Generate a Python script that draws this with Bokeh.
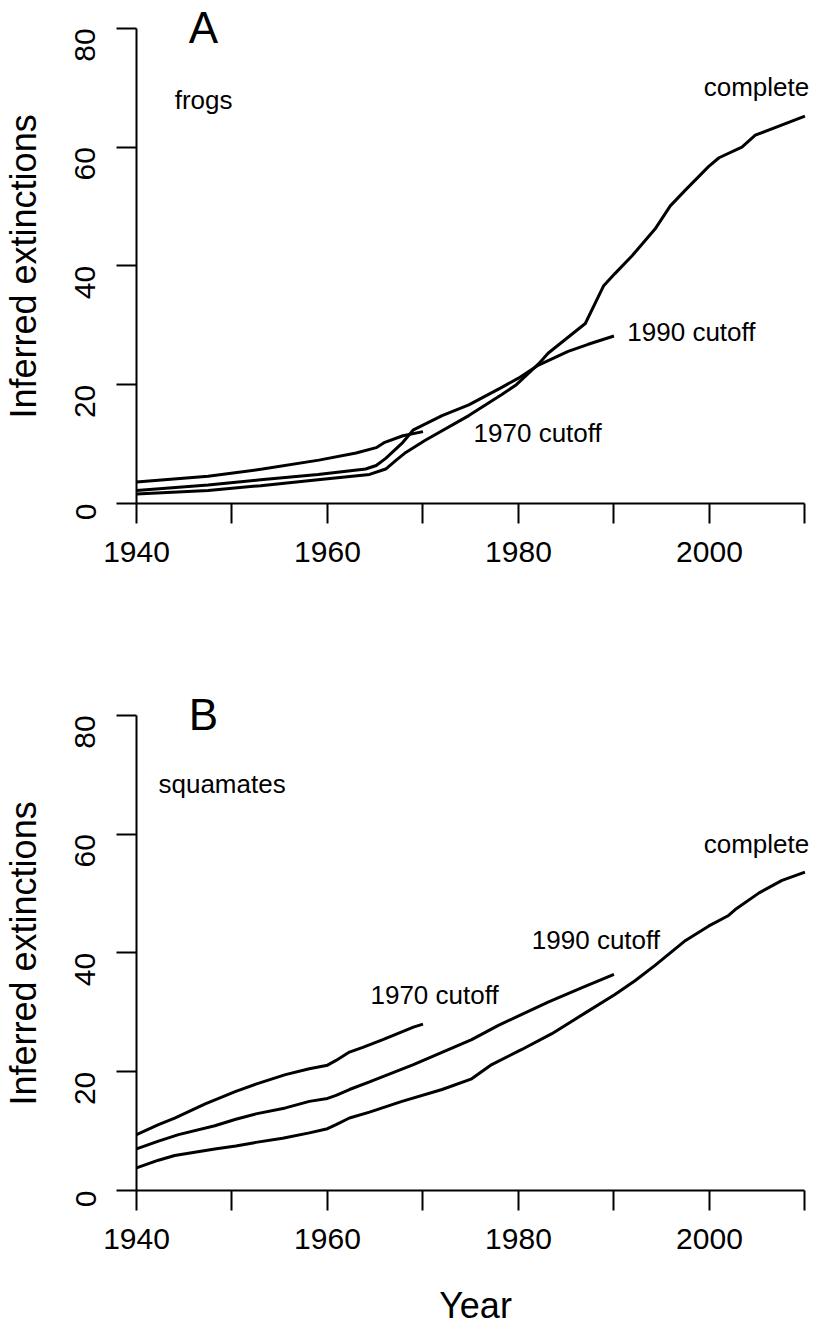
import math
from bokeh.plotting import figure
from bokeh.layouts import column
from bokeh.models import FixedTicker, Label, Title
from bokeh.embed import file_html
from bokeh.resources import INLINE

FONT = "Liberation Sans"

# ---- data: panel A (frogs) ----
frog_complete_years = [1940, 1947.5, 1953, 1959, 1964.4, 1966.1, 1967.2, 1968.2, 1970.2, 1974.8,
                       1978.3, 1979.7, 1982.1, 1983.1, 1984.9, 1987, 1988.9, 1990.1, 1991.9,
                       1994.3, 1995.9, 1997.5, 1999.9, 2001, 2003.4, 2004.8, 2010]
frog_complete_vals = [1.6, 2.2, 3.0, 4.0, 4.9, 5.8, 7.3, 8.6, 10.6, 14.8,
                      18.4, 19.9, 23.5, 25.3, 27.6, 30.3, 36.6, 38.7, 41.7,
                      46.2, 50.1, 52.8, 56.7, 58.2, 60.0, 62.0, 65.2]
frog_1990_years = [1940, 1947.5, 1953, 1959, 1964, 1965.1, 1966.1, 1967.9, 1969, 1970, 1972,
                   1974.8, 1978.3, 1980, 1982.1, 1985.2, 1987.3, 1990]
frog_1990_vals = [2.2, 3.1, 4.0, 4.9, 5.8, 6.4, 7.6, 10.3, 12.4, 13.2, 14.8,
                  16.6, 19.6, 21.1, 23.3, 25.6, 26.8, 28.2]
frog_1970_years = [1940, 1947.5, 1953.2, 1959.1, 1963, 1965.1, 1966, 1967.9, 1970]
frog_1970_vals = [3.6, 4.6, 5.8, 7.3, 8.5, 9.4, 10.3, 11.4, 12.1]

# ---- data: panel B (squamates) ----
sq_complete_years = [1940, 1942.3, 1944, 1948.2, 1950.4, 1952.5, 1955.3, 1958.1, 1960, 1960.9,
                     1962.3, 1964.4, 1967.8, 1972, 1975.1, 1977.2, 1980.3, 1983.5, 1987,
                     1990.1, 1992.2, 1994.3, 1997.5, 1999.9, 2002, 2002.7, 2005.2, 2007.6, 2010]
sq_complete_vals = [3.8, 5.1, 5.9, 7.0, 7.5, 8.1, 8.8, 9.7, 10.4, 11.1,
                    12.2, 13.2, 15.0, 17.0, 18.8, 21.2, 23.7, 26.4, 29.9,
                    33.0, 35.3, 37.9, 42.1, 44.5, 46.3, 47.3, 50.1, 52.2, 53.6]
sq_1990_years = [1940, 1942.3, 1944.4, 1948.2, 1950.4, 1952.5, 1955.6, 1958.1, 1960, 1960.9,
                 1962.3, 1964.4, 1969, 1975.1, 1977.9, 1980.3, 1983.1, 1986.6, 1990]
sq_1990_vals = [7.0, 8.3, 9.4, 10.9, 12.0, 12.9, 13.9, 15.0, 15.5, 16.0,
                17.0, 18.3, 21.2, 25.4, 27.8, 29.6, 31.7, 34.1, 36.4]
sq_1970_years = [1940, 1942.3, 1944, 1947.2, 1950.4, 1952.5, 1955.6, 1958.1, 1960, 1960.9,
                 1962.3, 1963.7, 1965.8, 1969, 1970]
sq_1970_vals = [9.4, 11.1, 12.2, 14.6, 16.7, 17.9, 19.5, 20.5, 21.1, 21.9,
                23.3, 24.1, 25.4, 27.5, 28.0]

x_ticks = [1940, 1950, 1960, 1970, 1980, 1990, 2000, 2010]
x_tick_labels = ["1940", "", "1960", "", "1980", "", "2000", ""]
y_ticks = [0, 20, 40, 60, 80]
y_tick_labels = ["0", "20", "40", "60", "80"]


def make_panel(height, border_top, xlabel):
    p = figure(width=813, height=height, frame_width=678, frame_height=499,
               min_border_left=135, min_border_right=0,
               min_border_top=border_top, min_border_bottom=height - border_top - 499,
               x_range=(1940, 2011), y_range=(0, 84),
               output_backend="svg", toolbar_location=None,
               background_fill_color="white", border_fill_color="white")
    p.outline_line_color = None
    p.grid.visible = False
    for ax in (p.xaxis[0], p.yaxis[0]):
        ax.axis_line_width = 2
        ax.axis_line_color = "black"
        ax.major_tick_line_width = 2
        ax.major_tick_line_color = "black"
        ax.major_tick_out = 20
        ax.major_tick_in = 0
        ax.minor_tick_line_color = None
        ax.major_label_text_font = FONT
        ax.major_label_text_font_size = "30px"
        ax.major_label_text_color = "black"
        ax.axis_label_text_font = FONT
        ax.axis_label_text_font_size = "36px"
        ax.axis_label_text_font_style = "normal"
        ax.axis_label_text_color = "black"
    p.xaxis.bounds = (1940, 2010)
    p.yaxis.bounds = (0, 80)
    p.xaxis.ticker = FixedTicker(ticks=x_ticks)
    p.xaxis.major_label_overrides = {t: l for t, l in zip(x_ticks, x_tick_labels)}
    p.xaxis.major_label_standoff = 18
    p.yaxis.ticker = FixedTicker(ticks=y_ticks)
    p.yaxis.major_label_overrides = {t: l for t, l in zip(y_ticks, y_tick_labels)}
    p.yaxis.major_label_orientation = math.pi / 2
    p.yaxis.major_label_standoff = 31
    # blank spacer between the tick labels and the y title
    p.add_layout(Title(text=" ", text_font_size="1px", standoff=16), "left")
    # y title centred on the 0-80 axis span (as in the original), not on the frame
    p.add_layout(Title(text="Inferred extinctions", align="left", offset=85,
                       text_font=FONT, text_font_size="36px", text_font_style="normal",
                       text_color="black", standoff=0), "left")
    if xlabel:
        p.xaxis.axis_label = xlabel
        p.xaxis.axis_label_standoff = 33
    return p


def add_label(p, x, y, text, size="26px", align="left"):
    p.add_layout(Label(x=x, y=y, text=text, text_font=FONT, text_font_size=size,
                       text_align=align, text_baseline="middle", text_color="black"))


pA = make_panel(660, 4, None)
for xs, ys in ((frog_complete_years, frog_complete_vals),
               (frog_1990_years, frog_1990_vals),
               (frog_1970_years, frog_1970_vals)):
    pA.line(xs, ys, line_color="black", line_width=3)
add_label(pA, 1947, 80.1, "A", size="44px", align="center")
add_label(pA, 1944.0, 68.0, "frogs")
add_label(pA, 1999.4, 70.1, "complete")
add_label(pA, 1991.4, 28.8, "1990 cutoff")
add_label(pA, 1975.3, 11.8, "1970 cutoff")

pB = make_panel(670, 31, "Year")
for xs, ys in ((sq_complete_years, sq_complete_vals),
               (sq_1990_years, sq_1990_vals),
               (sq_1970_years, sq_1970_vals)):
    pB.line(xs, ys, line_color="black", line_width=3)
add_label(pB, 1947, 80.1, "B", size="44px", align="center")
add_label(pB, 1942.3, 68.5, "squamates")
add_label(pB, 1999.4, 58.4, "complete")
add_label(pB, 1981.4, 42.1, "1990 cutoff")
add_label(pB, 1964.5, 32.9, "1970 cutoff")

layout = column(pA, pB, spacing=0)
open("out.html", "w").write(file_html(layout, INLINE))
